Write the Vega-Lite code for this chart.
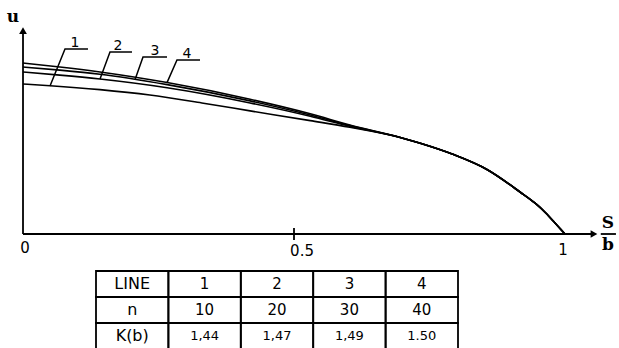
{
  "$schema": "https://vega.github.io/schema/vega-lite/v6.json",
  "padding": 0,
  "spacing": 0,
  "background": "white",
  "config": {"view": {"stroke": null}, "text": {"font": "DejaVu Sans", "color": "black"}},
  "datasets": {
    "curves": [
      {"line": "4", "x": 0, "u": 0.822}, {"line": "4", "x": 0.068, "u": 0.803}, {"line": "4", "x": 0.142, "u": 0.779}, {"line": "4", "x": 0.266, "u": 0.728}, {"line": "4", "x": 0.419, "u": 0.648}, {"line": "4", "x": 0.530, "u": 0.578}, {"line": "4", "x": 0.603, "u": 0.524}, {"line": "4", "x": 0.696, "u": 0.464},
      {"line": "4", "x": 0.733, "u": 0.436}, {"line": "4", "x": 0.793, "u": 0.383}, {"line": "4", "x": 0.856, "u": 0.310}, {"line": "4", "x": 0.917, "u": 0.202}, {"line": "4", "x": 0.945, "u": 0.148}, {"line": "4", "x": 0.965, "u": 0.100}, {"line": "4", "x": 0.982, "u": 0.052}, {"line": "4", "x": 1.0, "u": 0},
      {"line": "3", "x": 0, "u": 0.803}, {"line": "3", "x": 0.068, "u": 0.788}, {"line": "3", "x": 0.142, "u": 0.768}, {"line": "3", "x": 0.266, "u": 0.718}, {"line": "3", "x": 0.419, "u": 0.640}, {"line": "3", "x": 0.530, "u": 0.572}, {"line": "3", "x": 0.603, "u": 0.521}, {"line": "3", "x": 0.696, "u": 0.464},
      {"line": "3", "x": 0.733, "u": 0.436}, {"line": "3", "x": 0.793, "u": 0.383}, {"line": "3", "x": 0.856, "u": 0.310}, {"line": "3", "x": 0.917, "u": 0.202}, {"line": "3", "x": 0.945, "u": 0.148}, {"line": "3", "x": 0.965, "u": 0.100}, {"line": "3", "x": 0.982, "u": 0.052}, {"line": "3", "x": 1.0, "u": 0},
      {"line": "2", "x": 0, "u": 0.779}, {"line": "2", "x": 0.068, "u": 0.764}, {"line": "2", "x": 0.142, "u": 0.745}, {"line": "2", "x": 0.266, "u": 0.703}, {"line": "2", "x": 0.419, "u": 0.630}, {"line": "2", "x": 0.530, "u": 0.566}, {"line": "2", "x": 0.603, "u": 0.518}, {"line": "2", "x": 0.696, "u": 0.464},
      {"line": "2", "x": 0.733, "u": 0.436}, {"line": "2", "x": 0.793, "u": 0.383}, {"line": "2", "x": 0.856, "u": 0.310}, {"line": "2", "x": 0.917, "u": 0.202}, {"line": "2", "x": 0.945, "u": 0.148}, {"line": "2", "x": 0.965, "u": 0.100}, {"line": "2", "x": 0.982, "u": 0.052}, {"line": "2", "x": 1.0, "u": 0},
      {"line": "1", "x": 0, "u": 0.721}, {"line": "1", "x": 0.050, "u": 0.713}, {"line": "1", "x": 0.142, "u": 0.694}, {"line": "1", "x": 0.234, "u": 0.668}, {"line": "1", "x": 0.330, "u": 0.630}, {"line": "1", "x": 0.419, "u": 0.592}, {"line": "1", "x": 0.530, "u": 0.545}, {"line": "1", "x": 0.603, "u": 0.513}, {"line": "1", "x": 0.696, "u": 0.464},
      {"line": "1", "x": 0.733, "u": 0.436}, {"line": "1", "x": 0.793, "u": 0.383}, {"line": "1", "x": 0.856, "u": 0.310}, {"line": "1", "x": 0.917, "u": 0.202}, {"line": "1", "x": 0.945, "u": 0.148}, {"line": "1", "x": 0.965, "u": 0.100}, {"line": "1", "x": 0.982, "u": 0.052}, {"line": "1", "x": 1.0, "u": 0}
    ],
    "leaders": [
      {"label": "1", "seq": 0, "x": 0.0498, "u": 0.7115}, {"label": "1", "seq": 1, "x": 0.0775, "u": 0.8894}, {"label": "1", "seq": 2, "x": 0.1199, "u": 0.8894},
      {"label": "2", "seq": 0, "x": 0.1421, "u": 0.745}, {"label": "2", "seq": 1, "x": 0.1605, "u": 0.875}, {"label": "2", "seq": 2, "x": 0.2011, "u": 0.875},
      {"label": "3", "seq": 0, "x": 0.2066, "u": 0.742}, {"label": "3", "seq": 1, "x": 0.2214, "u": 0.851}, {"label": "3", "seq": 2, "x": 0.2657, "u": 0.851},
      {"label": "4", "seq": 0, "x": 0.2657, "u": 0.728}, {"label": "4", "seq": 1, "x": 0.2841, "u": 0.8365}, {"label": "4", "seq": 2, "x": 0.3266, "u": 0.8365}
    ],
    "curveLabels": [
      {"text": "1", "x": 0.0959, "u": 0.918},
      {"text": "2", "x": 0.1753, "u": 0.905},
      {"text": "3", "x": 0.2435, "u": 0.882},
      {"text": "4", "x": 0.3026, "u": 0.867}
    ],
    "rules": [
      {"x": 0, "x2": 0, "u": 0, "u2": 0.975},
      {"x": 0, "x2": 1.05, "u": 0, "u2": 0},
      {"x": 0.5, "x2": 0.5, "u": -0.029, "u2": 0.029},
      {"x": 1.066, "x2": 1.094, "u": 0, "u2": 0}
    ],
    "arrows": [
      {"x": 0, "u": 0.978, "shape": "triangle-up"},
      {"x": 1.0535, "u": 0, "shape": "triangle-right"}
    ],
    "tickLabels": [
      {"text": "0", "x": 0.0037, "u": -0.067},
      {"text": "0.5", "x": 0.5148, "u": -0.082},
      {"text": "1", "x": 0.9963, "u": -0.077}
    ],
    "axisNames": [
      {"text": "u", "x": -0.0185, "u": 1.043},
      {"text": "S", "x": 1.0793, "u": 0.055},
      {"text": "b", "x": 1.0793, "u": -0.053}
    ],
    "table": [
      {"r": 1, "c": 0, "t": "LINE"}, {"r": 1, "c": 1, "t": "1"}, {"r": 1, "c": 2, "t": "2"}, {"r": 1, "c": 3, "t": "3"}, {"r": 1, "c": 4, "t": "4"},
      {"r": 2, "c": 0, "t": "n"}, {"r": 2, "c": 1, "t": "10"}, {"r": 2, "c": 2, "t": "20"}, {"r": 2, "c": 3, "t": "30"}, {"r": 2, "c": 4, "t": "40"},
      {"r": 3, "c": 0, "t": "K(b)"}, {"r": 3, "c": 1, "t": "1,44"}, {"r": 3, "c": 2, "t": "1,47"}, {"r": 3, "c": 3, "t": "1,49"}, {"r": 3, "c": 4, "t": "1.50"}
    ]
  },
  "vconcat": [
    {
      "width": 619,
      "height": 262,
      "encoding": {
        "x": {"field": "x", "type": "quantitative", "scale": {"domain": [-0.04244, 1.09963], "nice": false, "zero": false}, "axis": null},
        "y": {"field": "u", "type": "quantitative", "scale": {"domain": [-0.13462, 1.125], "nice": false, "zero": false}, "axis": null}
      },
      "layer": [
        {
          "data": {"name": "rules"},
          "mark": {"type": "rule", "color": "black", "strokeWidth": 1.8},
          "encoding": {"x2": {"field": "x2"}, "y2": {"field": "u2"}}
        },
        {
          "data": {"name": "arrows"},
          "mark": {"type": "point", "filled": true, "color": "black", "size": 60, "opacity": 1},
          "encoding": {"shape": {"field": "shape", "type": "nominal", "scale": null}}
        },
        {
          "data": {"name": "curves"},
          "mark": {"type": "line", "interpolate": "monotone", "color": "black", "strokeWidth": 1.6},
          "encoding": {"detail": {"field": "line", "type": "nominal"}}
        },
        {
          "data": {"name": "leaders"},
          "mark": {"type": "line", "color": "black", "strokeWidth": 1.5},
          "encoding": {"detail": {"field": "label", "type": "nominal"}, "order": {"field": "seq", "type": "quantitative"}}
        },
        {
          "data": {"name": "curveLabels"},
          "mark": {"type": "text", "fontSize": 14, "align": "center", "baseline": "middle"},
          "encoding": {"text": {"field": "text"}}
        },
        {
          "data": {"name": "tickLabels"},
          "mark": {"type": "text", "fontSize": 15, "align": "center", "baseline": "middle"},
          "encoding": {"text": {"field": "text"}}
        },
        {
          "data": {"name": "axisNames"},
          "mark": {"type": "text", "fontSize": 17, "font": "DejaVu Serif", "fontWeight": "bold", "align": "center", "baseline": "middle"},
          "encoding": {"text": {"field": "text"}}
        }
      ]
    },
    {
      "width": 619,
      "height": 87,
      "data": {"name": "table"},
      "encoding": {
        "x": {"field": "c", "type": "ordinal", "scale": {"paddingInner": 0, "paddingOuter": 0, "range": [96, 458]}, "axis": null},
        "y": {"field": "r", "type": "ordinal", "scale": {"paddingInner": 0, "paddingOuter": 0.173, "align": 1}, "axis": null}
      },
      "layer": [
        {"mark": {"type": "rect", "fill": null, "stroke": "black", "strokeWidth": 1.8}},
        {
          "transform": [{"filter": "datum.c == 0"}],
          "mark": {"type": "text", "fontSize": 16, "align": "center", "baseline": "middle"},
          "encoding": {"text": {"field": "t"}}
        },
        {
          "transform": [{"filter": "datum.c > 0 && datum.r < 3"}],
          "mark": {"type": "text", "fontSize": 15, "align": "center", "baseline": "middle"},
          "encoding": {"text": {"field": "t"}}
        },
        {
          "transform": [{"filter": "datum.c > 0 && datum.r == 3"}],
          "mark": {"type": "text", "fontSize": 13, "align": "center", "baseline": "middle"},
          "encoding": {"text": {"field": "t"}}
        }
      ]
    }
  ]
}
